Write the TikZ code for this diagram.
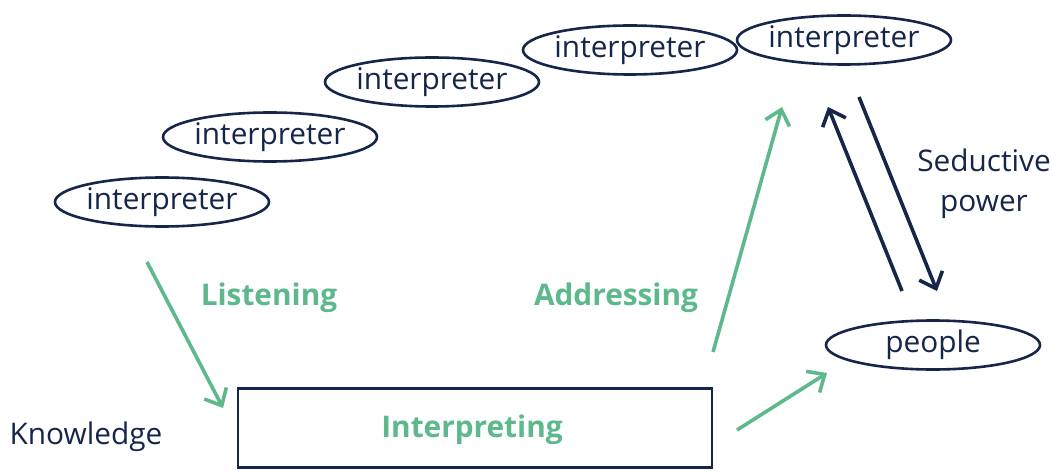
\documentclass[tikz,border=0pt]{standalone}
\usepackage{fontspec}
\setmainfont{Open Sans}
\usetikzlibrary{arrows.meta,shapes.geometric}
\definecolor{navy}{HTML}{15264A}
\definecolor{leaf}{HTML}{5DB98B}
\tikzset{
  every node/.style={text=navy, font=\fontsize{14.9}{20}\selectfont},
  role/.style={draw=navy, line width=1.3pt, ellipse, minimum width=107pt, minimum height=24.5pt, inner sep=0pt},
  stage/.style={draw=navy, line width=1.3pt, rectangle, minimum width=237pt, minimum height=39.5pt},
  act/.style={text=leaf, font=\fontsize{14.9}{20}\selectfont\bfseries},
  flow/.style={draw=leaf, line width=1.8pt, -{Straight Barb[length=7pt,width=12.5pt,line width=1.8pt]}},
  pull/.style={draw=navy, line width=1.8pt, -{Straight Barb[length=7pt,width=12.5pt,line width=1.8pt]}}
}
\begin{document}
\begin{tikzpicture}[x=0.5pt,y=-0.5pt]
\useasboundingbox (0,0) rectangle (1052,470);
% chain of interpreters
\node[role] (i1) at (162,202) {interpreter};
\node[role] (i2) at (270,137) {interpreter};
\node[role] (i3) at (432,82) {interpreter};
\node[role] (i4) at (630,50) {interpreter};
\node[role] (i5) at (844,40) {interpreter};
\node[role] (people) at (933,345) {people};
% central activity
\node[stage] (interp) at (475,428) {};
\node[act] (interpLabel) at (472,430) {Interpreting};
\node (know) at (86,437) {Knowledge};
\node[act] (listen) at (269,298) {Listening};
\node[act] (address) at (616,298) {Addressing};
\node[align=center] (seduce) at (984,184) {Seductive\\power};
% arrow end points
\coordinate (l0) at (147,262);
\coordinate (l1) at (223,408);
\coordinate (a0) at (713,352);
\coordinate (a1) at (782,107);
\coordinate (p0) at (737,430);
\coordinate (p1) at (827,373);
\coordinate (u0) at (902,291);
\coordinate (u1) at (828,107);
\coordinate (d0) at (859,97);
\coordinate (d1) at (937,291);
% connectors
\draw[flow] (l0) -- (l1);
\draw[flow] (a0) -- (a1);
\draw[flow] (p0) -- (p1);
\draw[pull] (u0) -- (u1);
\draw[pull] (d0) -- (d1);
\end{tikzpicture}
\end{document}
